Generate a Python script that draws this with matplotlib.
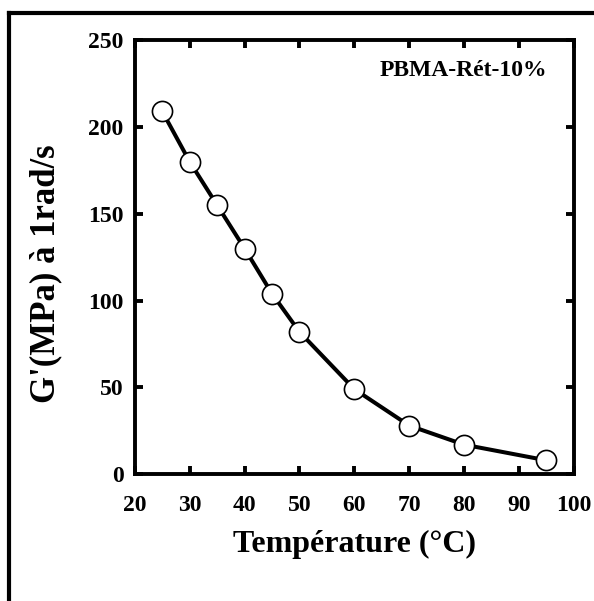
import matplotlib
matplotlib.use('Agg')
import matplotlib.pyplot as plt
from matplotlib.lines import Line2D

# données
temperature = [25, 30, 35, 40, 45, 50, 60, 70, 80, 95]
g_prime = [209, 180, 155, 130, 104, 82, 49, 28, 17, 8]
x_ticks = [20, 30, 40, 50, 60, 70, 80, 90, 100]
y_ticks = [0, 50, 100, 150, 200, 250]

plt.rcParams['font.family'] = ['Liberation Serif', 'DejaVu Serif']
plt.rcParams['font.weight'] = 'bold'

fig = plt.figure(figsize=(5.94, 6.01), dpi=100)
ax = fig.add_axes([0.227, 0.211, 0.739, 0.722])

ax.plot(temperature, g_prime, color='black', linewidth=2.9,
        marker='o', markersize=14.5, markerfacecolor='white',
        markeredgecolor='black', markeredgewidth=1.2)

ax.set_xlim(20, 100)
ax.set_ylim(0, 250)
ax.set_xticks(x_ticks)
ax.set_yticks(y_ticks)

for s in ax.spines.values():
    s.set_linewidth(2.8)
ax.tick_params(direction='in', length=6, width=2.8, top=True, right=True,
               labelsize=17)
ax.tick_params(axis='x', pad=15)
ax.tick_params(axis='y', pad=8)
for lab in ax.get_xticklabels() + ax.get_yticklabels():
    lab.set_fontweight('bold')

ax.set_xlabel('Température (°C)', fontsize=23, fontweight='bold', labelpad=10)
ax.set_ylabel("G'(MPa) à 1rad/s", fontsize=25, fontweight='bold')
ax.yaxis.set_label_coords(-0.166, 0.463)

ax.text(0.94, 0.93, 'PBMA-Rét-10%', transform=ax.transAxes, ha='right',
        va='center', fontsize=17, fontweight='bold')

# cadre extérieur (haut et gauche seulement)
fig.add_artist(Line2D([0.015, 1.0], [0.979, 0.979], transform=fig.transFigure,
                      color='black', linewidth=3))
fig.add_artist(Line2D([0.015, 0.015], [0.0, 0.979], transform=fig.transFigure,
                      color='black', linewidth=3))

fig.savefig('out.png', dpi=100)
